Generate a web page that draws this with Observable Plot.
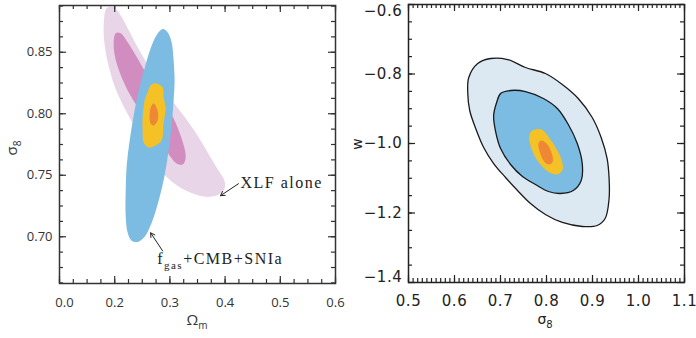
<!DOCTYPE html>
<html><head><meta charset="utf-8">
<script src="https://cdn.jsdelivr.net/npm/d3@7"></script>
<script src="https://cdn.jsdelivr.net/npm/@observablehq/plot@0.6"></script>
<style>
html,body{margin:0;padding:0;background:#fff;}
#wrap{position:relative;width:696px;height:338px;overflow:hidden;background:#fff;}
#left,#right{position:absolute;top:0;width:348px;height:338px;}
#left{left:0}#right{left:348px}
</style></head><body>
<div id="wrap"><div id="left"></div><div id="right"></div></div>
<script>
// ---------- Left panel data: (Omega_m, sigma_8) ----------
const omegaDomain = [0.1, 0.6];
const sigmaDomainL = [0.662, 0.888];
const omegaTicks = [0.1, 0.2, 0.3, 0.4, 0.5, 0.6];
const omegaTickLabels = ["0.0", "0.2", "0.3", "0.4", "0.5", "0.6"];
const sigmaTicksL = [0.70, 0.75, 0.80, 0.85];
const sigmaTickLabelsL = ["0.70", "0.75", "0.80", "0.85"];

const xlf95 = [[0.1855,0.8859],[0.1982,0.8867],[0.2090,0.8810],[0.2235,0.8696],[0.2416,0.8541],[0.2615,0.8386],[0.2832,0.8231],[0.3049,0.8100],[0.3248,0.7986],[0.3428,0.7872],[0.3591,0.7758],[0.3736,0.7644],[0.3881,0.7538],[0.3989,0.7456],[0.3989,0.7391],[0.3881,0.7342],[0.3646,0.7326],[0.3428,0.7350],[0.3193,0.7399],[0.2976,0.7472],[0.2796,0.7562],[0.2633,0.7676],[0.2470,0.7799],[0.2307,0.7937],[0.2145,0.8076],[0.2000,0.8223],[0.1892,0.8386],[0.1819,0.8557],[0.1801,0.8720]];
const xlf68 = [[0.2018,0.8655],[0.2108,0.8655],[0.2235,0.8582],[0.2380,0.8476],[0.2560,0.8337],[0.2741,0.8206],[0.2922,0.8084],[0.3085,0.7945],[0.3193,0.7823],[0.3266,0.7717],[0.3284,0.7635],[0.3230,0.7587],[0.3121,0.7595],[0.2994,0.7660],[0.2850,0.7766],[0.2651,0.7905],[0.2434,0.8043],[0.2235,0.8190],[0.2090,0.8337],[0.2000,0.8476],[0.1982,0.8582]];
const fgas95 = [[0.2868,0.8688],[0.2958,0.8663],[0.3031,0.8582],[0.3067,0.8435],[0.3085,0.8272],[0.3067,0.8108],[0.3031,0.7905],[0.2976,0.7701],[0.2904,0.7497],[0.2796,0.7293],[0.2669,0.7114],[0.2542,0.7000],[0.2416,0.6958],[0.2307,0.6967],[0.2235,0.7032],[0.2199,0.7171],[0.2199,0.7374],[0.2217,0.7578],[0.2271,0.7782],[0.2344,0.7986],[0.2434,0.8190],[0.2542,0.8370],[0.2651,0.8533],[0.2759,0.8639]];
const comb95L = [[0.2741,0.8247],[0.2868,0.8215],[0.2886,0.8133],[0.2922,0.8051],[0.2886,0.7921],[0.2850,0.7782],[0.2741,0.7742],[0.2615,0.7725],[0.2524,0.7766],[0.2506,0.7864],[0.2506,0.7970],[0.2542,0.8108],[0.2597,0.8174],[0.2651,0.8231]];
const comb68L = [[0.2705,0.8084],[0.2778,0.8027],[0.2778,0.7945],[0.2705,0.7905],[0.2651,0.7921],[0.2633,0.8002],[0.2669,0.8068]];

const xlfLabel = {x: 0.4278, y: 0.7440, text: "XLF alone"};
const xlfArrow = [{x1: 0.4242, y1: 0.7431, x2: 0.3917, y2: 0.7334}];
const fgasLabel = {x: 0.2778, y: 0.6771, main: "f", sub: "gas", rest: "+CMB+SNIa"};
const fgasArrow = [{x1: 0.2868, y1: 0.6885, x2: 0.2651, y2: 0.7032}];

// ---------- Right panel data: (sigma_8, w) ----------
const sigmaDomainR = [0.5, 1.1];
const wDomain = [-1.4, -0.6];
const sigmaTicksR = [0.5, 0.6, 0.7, 0.8, 0.9, 1.0, 1.1];
const sigmaTickLabelsR = ["0.5", "0.6", "0.7", "0.8", "0.9", "1.0", "1.1"];
const wTicks = [-1.4, -1.2, -1.0, -0.8, -0.6];
const wTickLabels = ["\u22121.4", "\u22121.2", "\u22121.0", "\u22120.8", "\u22120.6"];

const outerR = [[0.7154,-0.7583],[0.6786,-0.7554],[0.6504,-0.7698],[0.6310,-0.8101],[0.6288,-0.8532],[0.6331,-0.9050],[0.6461,-0.9568],[0.6634,-1.0115],[0.6851,-1.0576],[0.7110,-1.0978],[0.7370,-1.1353],[0.7652,-1.1727],[0.7976,-1.2043],[0.8344,-1.2273],[0.8777,-1.2388],[0.9102,-1.2360],[0.9275,-1.2158],[0.9361,-1.1583],[0.9361,-1.1007],[0.9318,-1.0432],[0.9188,-0.9827],[0.8994,-0.9252],[0.8690,-0.8705],[0.8344,-0.8302],[0.7976,-0.7986],[0.7543,-0.7813]];
const innerR = [[0.7002,-0.8561],[0.7219,-0.8475],[0.7543,-0.8504],[0.7933,-0.8705],[0.8236,-0.8993],[0.8474,-0.9453],[0.8669,-1.0000],[0.8777,-1.0576],[0.8755,-1.1065],[0.8582,-1.1353],[0.8301,-1.1439],[0.8041,-1.1381],[0.7760,-1.1180],[0.7478,-1.0950],[0.7219,-1.0604],[0.7002,-1.0144],[0.6894,-0.9655],[0.6851,-0.9194],[0.6916,-0.8820]];
const comb95R = [[0.7695,-0.9626],[0.7890,-0.9597],[0.8084,-0.9885],[0.8258,-1.0259],[0.8344,-1.0547],[0.8344,-1.0777],[0.8236,-1.0892],[0.8063,-1.0835],[0.7868,-1.0604],[0.7716,-1.0288],[0.7630,-0.9942],[0.7630,-0.9741]];
const comb68R = [[0.7890,-0.9914],[0.8019,-1.0029],[0.8128,-1.0345],[0.8128,-1.0547],[0.8041,-1.0604],[0.7933,-1.0489],[0.7846,-1.0201],[0.7825,-1.0000]];

// ---------- helpers ----------
const region = (pts, fill, extra = {}) => Plot.line(pts, {x: d => d[0], y: d => d[1], fill, stroke: "none", curve: "catmull-rom-closed", ...extra});
// inward ticks: full-extent ticks shortened with insets (frame size fw x fh)
const inTicks = (vals, side, len, color, fw, fh) => {
  const o = {stroke: color, strokeWidth: 1.2};
  if (side === "bottom") return Plot.tickX(vals, {x: d => d, insetTop: fh - len, ...o});
  if (side === "top") return Plot.tickX(vals, {x: d => d, insetBottom: fh - len, ...o});
  if (side === "left") return Plot.tickY(vals, {y: d => d, insetRight: fw - len, ...o});
  return Plot.tickY(vals, {y: d => d, insetLeft: fw - len, ...o});
};
const allTicks = (xMaj, xMin, yMaj, yMin, color, fw, fh) => [
  inTicks(xMaj, "bottom", 7, color, fw, fh), inTicks(xMin, "bottom", 4, color, fw, fh),
  inTicks(xMaj, "top", 7, color, fw, fh), inTicks(xMin, "top", 4, color, fw, fh),
  inTicks(yMaj, "left", 7, color, fw, fh), inTicks(yMin, "left", 4, color, fw, fh),
  inTicks(yMaj, "right", 7, color, fw, fh), inTicks(yMin, "right", 4, color, fw, fh)
];

const omegaMinor = d3.range(0, 21).map(i => 0.1 + i * 0.025);
const sigmaMinorL = d3.range(0, 19).map(i => 0.6625 + i * 0.0125);
const sigmaMinorR = d3.range(0, 61).map(i => 0.5 + i * 0.01);
const wMinor = d3.range(0, 17).map(i => -1.4 + i * 0.05);

// ---------- Left chart ----------
const axL = "#333";
const L = {w: 348, h: 338, ml: 59, mr: 13, mt: 5, mb: 55};
const left = Plot.plot({
  width: L.w, height: L.h,
  marginLeft: L.ml, marginRight: L.mr, marginTop: L.mt, marginBottom: L.mb,
  x: {domain: omegaDomain},
  y: {domain: sigmaDomainL},
  style: {fontFamily: "'Open Sans', sans-serif", fontSize: "13px", color: axL, background: "white", overflow: "visible"},
  marks: [
    region(xlf95, "#e8d6e8"),
    region(xlf68, "#d18dbf"),
    region(fgas95, "#7cbbe2"),
    region(comb95L, "#f4c127"),
    region(comb68L, "#ee8834"),
    Plot.arrow(xlfArrow, {x1: "x1", y1: "y1", x2: "x2", y2: "y2", stroke: "#222", strokeWidth: 1, headLength: 7}),
    Plot.arrow(fgasArrow, {x1: "x1", y1: "y1", x2: "x2", y2: "y2", stroke: "#222", strokeWidth: 1, headLength: 7}),
    Plot.text([xlfLabel], {x: "x", y: "y", text: "text", textAnchor: "start", lineAnchor: "middle", fontFamily: "'Liberation Serif', serif", fontSize: 16, fill: "#222", className: "xlf-label"}),
    ...allTicks(omegaTicks, omegaMinor, sigmaTicksL, sigmaMinorL, "#333", L.w - L.ml - L.mr, L.h - L.mt - L.mb),
    Plot.frame({stroke: axL, strokeWidth: 1.5}),
    Plot.axisX(omegaTicks.slice(0, 1), {anchor: "bottom", tickSize: 0, tickPadding: 14.5, dx: 5, tickFormat: d => omegaTickLabels[omegaTicks.indexOf(d)], label: null, fill: axL}),
    Plot.axisX(omegaTicks.slice(1), {anchor: "bottom", tickSize: 0, tickPadding: 14.5, tickFormat: d => omegaTickLabels[omegaTicks.indexOf(d)], label: null, fill: axL}),
    Plot.axisY(sigmaTicksL, {anchor: "left", tickSize: 0, tickPadding: 7, tickFormat: d => sigmaTickLabelsL[sigmaTicksL.indexOf(d)], label: null, fill: axL})
  ]
});
document.getElementById("left").appendChild(left);
{
  const s = d3.select(left);
  s.selectAll(".xlf-label text, text.xlf-label").style("letter-spacing", "1.5px");
  const sx = left.scale("x"), sy = left.scale("y");
  const t = s.append("text").attr("x", sx.apply(fgasLabel.x)).attr("y", sy.apply(fgasLabel.y))
    .attr("text-anchor", "start")
    .attr("font-family", "'Liberation Serif', serif").attr("font-size", 16).attr("fill", "#222").style("letter-spacing", "1.5px");
  t.append("tspan").text(fgasLabel.main);
  t.append("tspan").attr("font-size", 11).attr("dy", 5).text(fgasLabel.sub);
  t.append("tspan").attr("dy", -5).text(fgasLabel.rest);
  const xt = s.append("text").attr("x", 197).attr("y", 325).attr("text-anchor", "middle")
    .attr("font-family", "'Open Sans', sans-serif").attr("font-size", 15).attr("fill", axL);
  xt.append("tspan").text("\u03A9");
  xt.append("tspan").attr("font-size", 10).attr("dy", 4).text("m");
  const yt = s.append("text").attr("transform", "translate(17,148) rotate(-90)").attr("text-anchor", "middle")
    .attr("font-family", "'Open Sans', sans-serif").attr("font-size", 15).attr("fill", axL);
  yt.append("tspan").text("\u03C3");
  yt.append("tspan").attr("font-size", 10).attr("dy", 4).text("8");
}

// ---------- Right chart ----------
const axR = "#222";
const R = {w: 348, h: 338, ml: 60, mr: 12, mt: 4, mb: 56};
const right = Plot.plot({
  width: R.w, height: R.h,
  marginLeft: R.ml, marginRight: R.mr, marginTop: R.mt, marginBottom: R.mb,
  x: {domain: sigmaDomainR},
  y: {domain: wDomain},
  style: {fontFamily: "'DejaVu Sans', sans-serif", fontSize: "15px", color: axR, background: "white", overflow: "visible"},
  marks: [
    region(outerR, "#dde9f2", {stroke: "#1a1a1a", strokeWidth: 1.3}),
    region(innerR, "#7cbbe2", {stroke: "#1a1a1a", strokeWidth: 1.3}),
    region(comb95R, "#f4c127"),
    region(comb68R, "#ee8834"),
    ...allTicks(sigmaTicksR, sigmaMinorR, wTicks, wMinor, "#222", R.w - R.ml - R.mr, R.h - R.mt - R.mb),
    Plot.frame({stroke: axR, strokeWidth: 1.5}),
    Plot.axisX(sigmaTicksR, {anchor: "bottom", tickSize: 0, tickPadding: 12.5, tickFormat: d => sigmaTickLabelsR[sigmaTicksR.indexOf(d)], label: null, fill: axR}),
    Plot.axisY(wTicks.slice(0, 1), {anchor: "left", tickSize: 0, tickPadding: 6, dy: -5, tickFormat: d => wTickLabels[wTicks.indexOf(d)], label: null, fill: axR}),
    Plot.axisY(wTicks.slice(1, 4), {anchor: "left", tickSize: 0, tickPadding: 6, tickFormat: d => wTickLabels[wTicks.indexOf(d)], label: null, fill: axR}),
    Plot.axisY(wTicks.slice(4), {anchor: "left", tickSize: 0, tickPadding: 6, dy: 7, tickFormat: d => wTickLabels[wTicks.indexOf(d)], label: null, fill: axR})
  ]
});
document.getElementById("right").appendChild(right);
{
  const s = d3.select(right);
  s.selectAll('g[aria-label="x-axis tick label"] text, g[aria-label="y-axis tick label"] text').style("letter-spacing", "0.6px");
  const xt = s.append("text").attr("x", 197).attr("y", 324).attr("text-anchor", "middle")
    .attr("font-family", "'DejaVu Sans', sans-serif").attr("font-size", 14).attr("fill", axR);
  xt.append("tspan").text("\u03C3");
  xt.append("tspan").attr("font-size", 10).attr("dy", 4).text("8");
  s.append("text").attr("transform", "translate(14,144) rotate(-90)").attr("text-anchor", "middle")
    .attr("font-family", "'DejaVu Sans', sans-serif").attr("font-size", 14).attr("fill", axR).text("w");
}
</script></body></html>
